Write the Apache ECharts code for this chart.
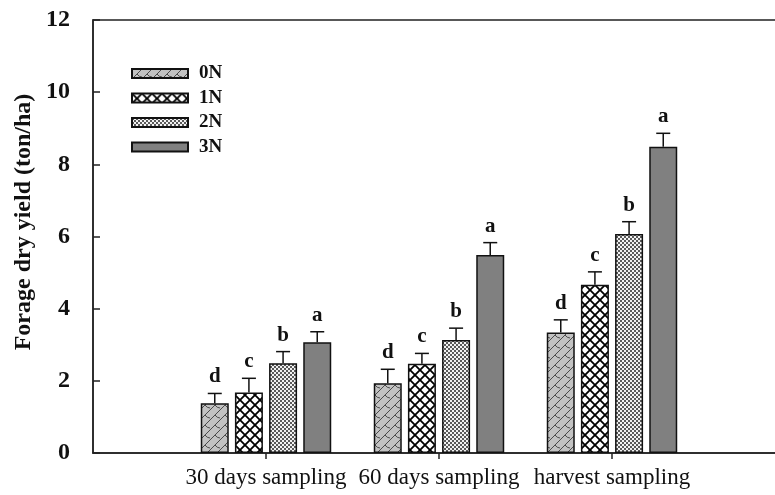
<!DOCTYPE html>
<html>
<head>
<meta charset="utf-8">
<script src="https://cdn.jsdelivr.net/npm/echarts@6/dist/echarts.min.js"></script>
<style>html,body{margin:0;padding:0;background:#fff;}#c{width:775px;height:495px;}</style>
</head>
<body>
<div id="c"></div>
<script>
const categories = ['30 days sampling', '60 days sampling', 'harvest sampling'];
const treatments = ['0N', '1N', '2N', '3N'];
const yield0N = [1.38, 1.93, 3.34];
const yield1N = [1.68, 2.47, 4.66];
const yield2N = [2.49, 3.13, 6.07];
const yield3N = [3.07, 5.49, 8.49];
const sd0N = [0.27, 0.39, 0.35];
const sd1N = [0.39, 0.29, 0.36];
const sd2N = [0.32, 0.33, 0.34];
const sd3N = [0.29, 0.34, 0.37];
const letters0N = ['d', 'd', 'd'];
const letters1N = ['c', 'c', 'c'];
const letters2N = ['b', 'b', 'b'];
const letters3N = ['a', 'a', 'a'];
const yTicks = [0, 2, 4, 6, 8, 10, 12];

const means = [yield0N, yield1N, yield2N, yield3N];
const sds = [sd0N, sd1N, sd2N, sd3N];
const letters = [letters0N, letters1N, letters2N, letters3N];

function makeTile(w, h, draw) {
  const c = document.createElement('canvas');
  c.width = w; c.height = h;
  const ctx = c.getContext('2d');
  draw(ctx, w, h);
  return {image: c, repeat: 'repeat'};
}
const patterns = [
  makeTile(10, 10, (ctx, w, h) => {
    ctx.fillStyle = '#c2c2c2'; ctx.fillRect(0, 0, w, h);
    ctx.strokeStyle = '#4a4a4a'; ctx.lineWidth = 1;
    ctx.beginPath();
    ctx.moveTo(0, 10); ctx.lineTo(10, 0);
    ctx.moveTo(-5, 5); ctx.lineTo(0, 0);
    ctx.moveTo(5, 5); ctx.quadraticCurveTo(7, 8, 10, 8);
    ctx.stroke();
  }),
  makeTile(10, 10, (ctx, w, h) => {
    ctx.fillStyle = '#ffffff'; ctx.fillRect(0, 0, w, h);
    ctx.strokeStyle = '#000000'; ctx.lineWidth = 1.8;
    ctx.beginPath();
    ctx.moveTo(-1, -1); ctx.lineTo(11, 11);
    ctx.moveTo(-1, 11); ctx.lineTo(11, -1);
    ctx.stroke();
  }),
  makeTile(4, 4, (ctx, w, h) => {
    ctx.fillStyle = '#f2f2f2'; ctx.fillRect(0, 0, w, h);
    ctx.fillStyle = '#5a5a5a';
    ctx.fillRect(0, 0, 2, 2); ctx.fillRect(2, 2, 2, 2);
  }),
  '#808080'
];

const barWidth = 28;
const barGapRatio = 0.22;
const step = barWidth * (1 + barGapRatio);
const serif = '"Liberation Serif", "DejaVu Serif", serif';

const series = [];
treatments.forEach((name, i) => {
  series.push({
    name: name,
    type: 'bar',
    barWidth: barWidth,
    barGap: (barGapRatio * 100) + '%',
    itemStyle: {color: patterns[i], borderColor: '#111', borderWidth: 1.5},
    data: [null].concat(means[i]).concat([null]),
    z: 2
  });
});
treatments.forEach((name, i) => {
  const offset = (i - 1.5) * step;
  series.push({
    type: 'custom',
    z: 3,
    silent: true,
    data: means[i].map((m, k) => [k + 1, m, sds[i][k], k]),
    renderItem: function (params, api) {
      const idx = api.value(0);
      const m = api.value(1);
      const s = api.value(2);
      const k = api.value(3);
      const p0 = api.coord([idx, m]);
      const p1 = api.coord([idx, m + s]);
      const x = p0[0] + offset;
      const cap = 7;
      return {
        type: 'group',
        children: [
          {type: 'line', shape: {x1: x, y1: p0[1], x2: x, y2: p1[1]}, style: {stroke: '#111', lineWidth: 1.5}},
          {type: 'line', shape: {x1: x - cap, y1: p1[1], x2: x + cap, y2: p1[1]}, style: {stroke: '#111', lineWidth: 1.5}},
          {type: 'text', style: {text: letters[i][k], x: x, y: p1[1] - 6, textAlign: 'center', textVerticalAlign: 'bottom', font: 'bold 21px ' + serif, fill: '#111'}}
        ]
      };
    }
  });
});

const chart = echarts.init(document.getElementById('c'));
chart.setOption({
  animation: false,
  backgroundColor: '#fff',
  grid: {left: 93, top: 20, width: 692, bottom: 42, outerBoundsMode: 'none', containLabel: false, show: true, borderColor: '#222', borderWidth: 1.5, backgroundColor: 'transparent'},
  legend: {
    data: treatments,
    orient: 'vertical',
    left: 131,
    top: 64,
    padding: 0,
    icon: 'rect',
    itemWidth: 56,
    itemHeight: 9,
    itemGap: 5.5,
    textStyle: {fontFamily: serif, fontWeight: 'bold', fontSize: 19, color: '#111', padding: [0, 0, 0, 6]}
  },
  xAxis: {
    type: 'category',
    data: [''].concat(categories).concat(['']),
    boundaryGap: false,
    axisLine: {lineStyle: {color: '#222', width: 1.5}},
    axisTick: {show: true, length: 6, lineStyle: {color: '#222', width: 1.5}, interval: function (index) { return index >= 1 && index <= categories.length; }},
    axisLabel: {interval: 0, margin: 13, fontFamily: serif, fontSize: 23, color: '#111'},
    splitLine: {show: false}
  },
  yAxis: {
    type: 'value',
    min: yTicks[0],
    max: yTicks[yTicks.length - 1],
    interval: yTicks[1] - yTicks[0],
    axisLine: {show: true, lineStyle: {color: '#222', width: 1.5}},
    axisTick: {show: true, inside: true, length: 7, lineStyle: {color: '#222', width: 1.5}},
    axisLabel: {margin: 23, fontFamily: serif, fontWeight: 'bold', fontSize: 24, color: '#111'},
    splitLine: {show: false}
  },
  graphic: [{
    type: 'text',
    x: 24,
    y: 222,
    rotation: Math.PI / 2,
    style: {text: 'Forage dry yield (ton/ha)', textAlign: 'center', textVerticalAlign: 'middle', font: 'bold 24px ' + serif, fill: '#111'}
  }],
  series: series
});
</script>
</body>
</html>
